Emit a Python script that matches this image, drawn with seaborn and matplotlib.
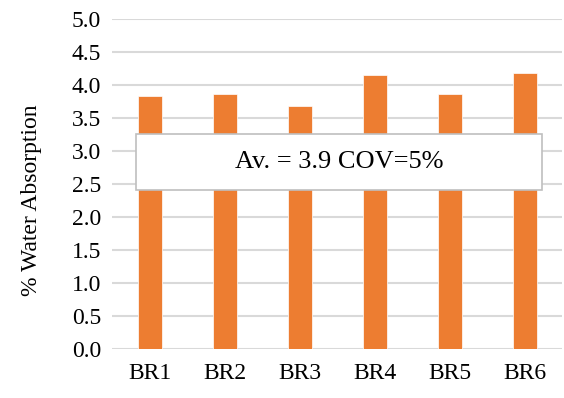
import matplotlib
matplotlib.use("Agg")
import matplotlib.pyplot as plt
import seaborn as sns
import pandas as pd

categories = ["BR1", "BR2", "BR3", "BR4", "BR5", "BR6"]
absorption = [3.83, 3.87, 3.68, 4.15, 3.86, 4.19]
yticks = [0.0, 0.5, 1.0, 1.5, 2.0, 2.5, 3.0, 3.5, 4.0, 4.5, 5.0]
annotation = "Av. = 3.9 COV=5%"
ylabel = "% Water Absorption"

sns.set_theme(style="white")
plt.rcParams['font.family'] = ['Liberation Serif', 'DejaVu Serif']
plt.rcParams['text.color'] = 'black'
plt.rcParams['xtick.color'] = 'black'
plt.rcParams['ytick.color'] = 'black'
plt.rcParams['axes.labelcolor'] = 'black'

df = pd.DataFrame({"cat": categories, "val": absorption})

fig = plt.figure(figsize=(5.64, 3.98), dpi=100)
ax = fig.add_axes([0.1986, 0.1239, 0.798, 0.8276])
sns.barplot(data=df, x="cat", y="val", color="#ED7D31", saturation=1,
            width=0.32, ax=ax, zorder=3, edgecolor="white", linewidth=0.5)
ax.set_ylim(0, 5)
ax.set_xlim(-0.5, 5.5)
ax.set_yticks(yticks)
ax.set_yticklabels([f"{v:.1f}" for v in yticks], fontsize=17)
ax.tick_params(axis='x', labelsize=17, pad=10, length=0)
ax.tick_params(axis='y', pad=8, length=0)
ax.yaxis.grid(True, color="#d9d9d9", linewidth=1.5, zorder=0)
ax.set_axisbelow(True)
for s in ax.spines.values():
    s.set_visible(False)
ax.set_xlabel("")
ax.set_ylabel(ylabel, fontsize=17)
ax.yaxis.set_label_coords(-0.156, 0.451)

from matplotlib.patches import Rectangle
x0, x1 = 136 / 564, 542 / 564
y0, y1 = 1 - 190 / 398, 1 - 134 / 398
rect = Rectangle((x0, y0), x1 - x0, y1 - y0, transform=fig.transFigure,
                 facecolor="white", edgecolor="#bfbfbf", linewidth=1.2, zorder=5)
fig.patches.append(rect)
fig.text((x0 + x1) / 2, (y0 + y1) / 2, annotation, ha="center", va="center",
         fontsize=19, zorder=6)

fig.savefig("out.png", dpi=100)
